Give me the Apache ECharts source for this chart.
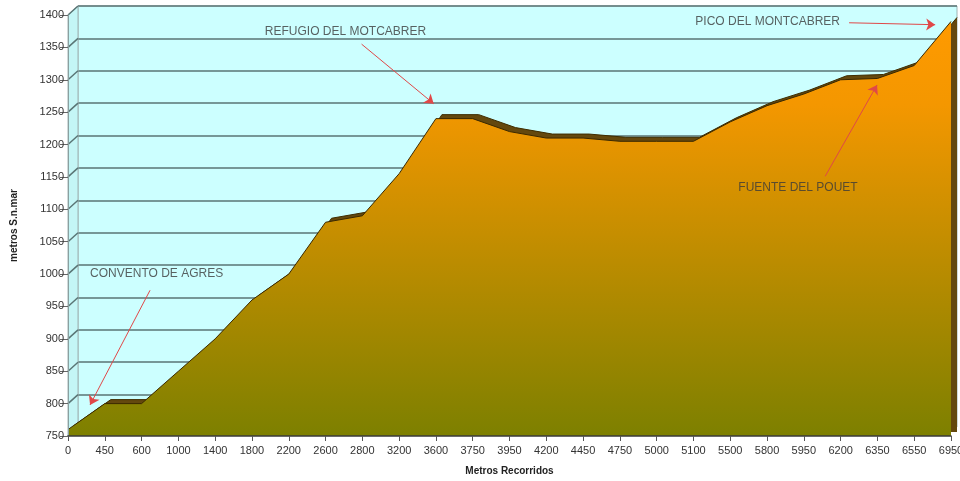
<!DOCTYPE html>
<html>
<head>
<meta charset="utf-8">
<script src="https://cdn.jsdelivr.net/npm/echarts@6/dist/echarts.min.js"></script>
<style>
  html, body { margin: 0; padding: 0; background: #fff; }
  #chart { width: 960px; height: 481px; }
</style>
</head>
<body>
<div id="chart"></div>
<script>
// Perfil de la ruta: distancia recorrida (m) y altitud (m s.n.m.)
const distances = ['0', '450', '600', '1000', '1400', '1800', '2200', '2600', '2800', '3200', '3600', '3750',
  '3950', '4200', '4450', '4750', '5000', '5100', '5500', '5800', '5950', '6200', '6350', '6550', '6950'];
const altitudes = [760, 800, 800, 850, 900, 960, 1000, 1080, 1090, 1155, 1240, 1240,
  1220, 1210, 1210, 1205, 1205, 1205, 1235, 1260, 1278, 1300, 1302, 1322, 1390];

// Etiquetas de puntos de interés (posición en índice de categoría, altitud)
const placeNames = ['CONVENTO DE AGRES', 'REFUGIO DEL MOTCABRER', 'PICO DEL MONTCABRER', 'FUENTE DEL POUET'];
const placeLabelAt = [[0.6, 1000], [5.35, 1374], [17.05, 1389], [18.22, 1134]];
const arrowFrom = [[2.23, 975], [7.98, 1355], [21.23, 1388], [20.58, 1151]];
const arrowTo = [[0.6, 798], [9.94, 1263], [23.57, 1385], [21.99, 1292]];

const yMin = 750, yMax = 1400, yStep = 50;
const FONT = 'Liberation Sans, Arial, sans-serif';
const gridColor = '#5a7575';

const chart = echarts.init(document.getElementById('chart'));

const option = {
  animation: false,
  textStyle: { fontFamily: FONT },
  grid: [
    // back wall (3D depth)
    { left: 78, right: 3, top: 6, bottom: 54, show: true, backgroundColor: '#ccffff', borderColor: '#9fb4b4', borderWidth: 1, outerBoundsMode: 'none' },
    // front plane
    { left: 68, right: 9, top: 15, bottom: 45, outerBoundsMode: 'none' },
    // back face of the area (area depth)
    { left: 74, right: 3, top: 11, bottom: 49, outerBoundsMode: 'none' }
  ],
  xAxis: [
    { gridIndex: 0, type: 'category', data: distances, boundaryGap: false, show: false },
    {
      gridIndex: 1, type: 'category', data: distances, boundaryGap: false, z: 5,
      axisLine: { lineStyle: { color: '#3a3a3a', width: 1.5 } },
      axisTick: { alignWithLabel: true, length: 5, lineStyle: { color: '#555' } },
      axisLabel: { color: '#333', fontSize: 11, margin: 9, interval: 0 },
      splitLine: { show: false },
      name: 'Metros Recorridos', nameLocation: 'middle', nameGap: 30,
      nameTextStyle: { fontWeight: 'bold', fontSize: 10, color: '#222' }
    },
    { gridIndex: 1, type: 'value', min: 0, max: distances.length - 1, show: false },
    { gridIndex: 2, type: 'category', data: distances, boundaryGap: false, show: false }
  ],
  yAxis: [
    {
      gridIndex: 0, type: 'value', min: yMin, max: yMax, interval: yStep,
      axisLine: { show: false }, axisTick: { show: false }, axisLabel: { show: false },
      splitLine: { lineStyle: { color: gridColor, width: 1.5 } }
    },
    {
      gridIndex: 1, type: 'value', min: yMin, max: yMax, interval: yStep, z: 5,
      axisLine: { show: true, lineStyle: { color: '#8aa0a0', width: 1 } },
      axisTick: { show: true, length: 8, lineStyle: { color: '#666' } },
      axisLabel: { color: '#333', fontSize: 11, margin: 4, formatter: (v) => String(v) },
      splitLine: { show: false },
      name: 'metros S.n.mar', nameLocation: 'middle', nameGap: 49, nameRotate: 90,
      nameTextStyle: { fontWeight: 'bold', fontSize: 10, color: '#222' }
    },
    { gridIndex: 2, type: 'value', min: yMin, max: yMax, show: false }
  ],
  series: [
    {
      // shifted copy gives the top and side faces of the 3D area
      type: 'line', xAxisIndex: 3, yAxisIndex: 2, data: altitudes, z: 2,
      symbol: 'none', silent: true,
      lineStyle: { color: '#3e2c00', width: 1 },
      areaStyle: { color: '#64480e', opacity: 1 }
    },
    {
      type: 'line', xAxisIndex: 1, yAxisIndex: 1, data: altitudes, z: 3,
      symbol: 'none',
      lineStyle: { color: '#3a2800', width: 1 },
      areaStyle: {
        opacity: 1,
        color: new echarts.graphic.LinearGradient(0, 0, 0, 1, [
          { offset: 0, color: '#ff9a00' },
          { offset: 0.2, color: '#f49700' },
          { offset: 1, color: '#7d8000' }
        ])
      }
    },
    {
      type: 'scatter', xAxisIndex: 2, yAxisIndex: 1, z: 6,
      symbolSize: 0,
      data: placeNames.map((n, i) => ({ value: placeLabelAt[i], name: n })),
      label: {
        show: true, position: 'right', distance: 0, formatter: '{b}',
        color: '#3a3a3a', fontSize: 12, fontFamily: FONT
      },
      markLine: {
        silent: true, symbol: ['none', 'arrow'], symbolSize: 9,
        label: { show: false },
        lineStyle: { color: '#e04848', width: 1, type: 'solid' },
        itemStyle: { color: '#ee1111' },
        data: arrowFrom.map((p, i) => [{ coord: p }, { coord: arrowTo[i] }])
      }
    }
  ]
};
chart.setOption(option);

// side wall and slanted gridline joints between front axis and back wall
const ticks = [];
for (let v = yMin; v <= yMax; v += yStep) ticks.push(v);
const front = (v) => chart.convertToPixel({ xAxisIndex: 1, yAxisIndex: 1 }, [0, v]);
const back = (v) => chart.convertToPixel({ xAxisIndex: 0, yAxisIndex: 0 }, [0, v]);
const fTop = front(yMax), fBot = front(yMin), bTop = back(yMax), bBot = back(yMin);
const elements = [{
  type: 'polygon', z: 0,
  shape: { points: [fTop, bTop, bBot, fBot] },
  style: { fill: '#c4f6f6', stroke: '#9fb4b4', lineWidth: 1 }
}];
ticks.forEach((v) => {
  const a = front(v), b = back(v);
  elements.push({
    type: 'line', z: 1,
    shape: { x1: a[0], y1: a[1], x2: b[0], y2: b[1] },
    style: { stroke: gridColor, lineWidth: 1.5 }
  });
});
chart.setOption({ graphic: elements });
</script>
</body>
</html>
